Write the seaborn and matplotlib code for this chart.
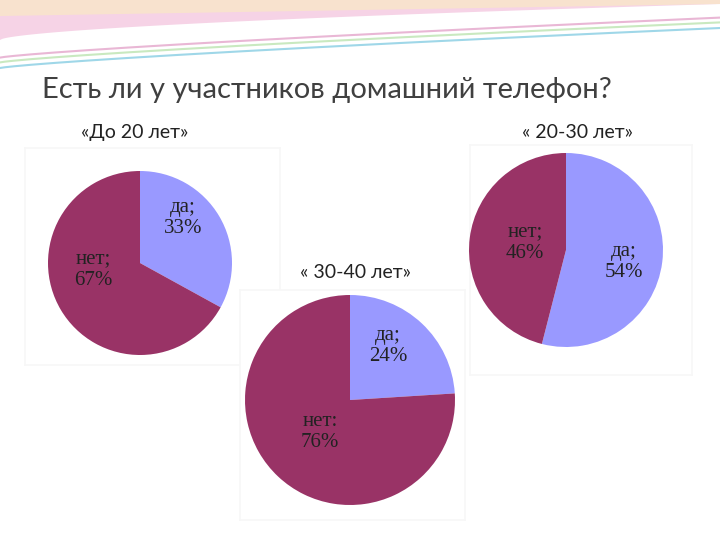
import matplotlib
matplotlib.use("Agg")
import matplotlib.pyplot as plt
import seaborn as sns
import numpy as np

sns.set_theme(style="white")
plt.rcParams['font.family'] = ['Lato', 'DejaVu Sans']

title = "Есть ли у участников домашний телефон?"
groups = ["«До 20 лет»", "« 20-30 лет»", "« 30-40 лет»"]
labels = [["да;", "нет;"], ["да;", "нет;"], ["да;", "нет:"]]
values = [[33, 67], [54, 46], [24, 76]]
colors = ["#9999FF", "#993366"]

W, H = 720, 540
fig = plt.figure(figsize=(7.2, 5.4), dpi=100)
fig.patch.set_facecolor("white")

deco = fig.add_axes([0, 1 - 80 / H, 1, 80 / H])
deco.set_xlim(0, 1); deco.set_ylim(0, 1); deco.axis("off")
x = np.linspace(0, 1, 300)
deco.fill_between(x, 1, 0.5 + 0.45 * x ** 0.6, color="#F6D3E6", lw=0)
deco.fill_between(x, 1, 0.8 + 0.15 * x, color="#F9E6C8", lw=0, alpha=0.8)
for a, c in [(0.05, "#9FD7E8"), (0.12, "#C9E9C0"), (0.18, "#E9B7D5")]:
    deco.plot(x, 0.1 + a + 0.5 * x ** 0.8, color=c, lw=1.5)

fig.text(42 / W, 1 - 90 / H, title, fontsize=21, color="#404040", va="center")

specs = [
    (140, 263, 92, (25, 148, 280, 365), (135, 133)),
    (566, 250, 97, (470, 145, 692, 375), (578, 133)),
    (350, 400, 105, (240, 290, 465, 520), (355, 272)),
]
label_pos = [
    [(183, 218), (93, 270)],
    [(624, 262), (525, 243)],
    [(388, 346), (320, 432)],
]

for i, (cx, cy, r, box, tp) in enumerate(specs):
    x0, y0, x1, y1 = box
    bx = fig.add_axes([x0 / W, 1 - y1 / H, (x1 - x0) / W, (y1 - y0) / H])
    bx.set_facecolor("white")
    for s in bx.spines.values():
        s.set_color("#F7F7F7")
    bx.set_xticks([]); bx.set_yticks([])
    ax = fig.add_axes([(cx - r) / W, 1 - (cy + r) / H, 2 * r / W, 2 * r / H])
    ax.pie(values[i], colors=colors, startangle=90, counterclock=False,
           wedgeprops=dict(linewidth=0))
    ax.set_xlim(-1, 1); ax.set_ylim(-1, 1)
    ax.set_aspect("equal")
    fig.text(tp[0] / W, 1 - tp[1] / H, groups[i], fontsize=14, color="#222222",
             ha="center", va="center")
    for j in range(2):
        px, py = label_pos[i][j]
        fig.text(px / W, 1 - py / H, f"{labels[i][j]}\n{values[i][j]}%",
                 fontsize=15, family=["Liberation Serif", "DejaVu Serif"],
                 color="#222222", ha="center", va="center", linespacing=1.2)

fig.savefig("out.png", dpi=100)
